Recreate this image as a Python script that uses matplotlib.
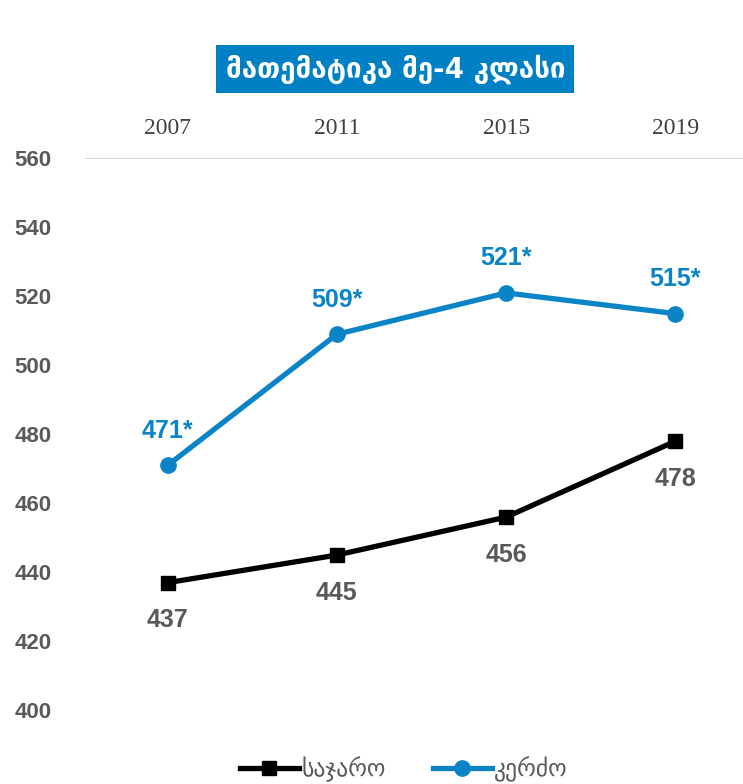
import matplotlib
matplotlib.use("Agg")
import matplotlib.pyplot as plt

years = ["2007", "2011", "2015", "2019"]
georgia = [437, 445, 456, 478]
north = [471, 509, 521, 515]
north_labels = ["471*", "509*", "521*", "515*"]
yticks = [400, 420, 440, 460, 480, 500, 520, 540, 560]

BLUE = "#0a84c6"
GRAY = "#595959"
FONT = ["Liberation Sans", "DejaVu Sans"]

plt.rcParams["font.family"] = FONT

fig = plt.figure(figsize=(7.43, 7.84), dpi=100)
ax = fig.add_axes([0.114, 0.094, 0.886, 0.704])

x = list(range(len(years)))
ax.plot(x, georgia, color="black", lw=3.8, marker="s", ms=10,
        label="საჯარო", zorder=3)
ax.plot(x, north, color=BLUE, lw=3.8, marker="o", ms=11,
        label="კერძო", zorder=3)

for xi, v in zip(x, georgia):
    ax.annotate(str(v), (xi, v), xytext=(0, -27), textcoords="offset points",
                ha="center", va="center", fontsize=18, fontweight="bold", color=GRAY)
for xi, v, lab in zip(x, north, north_labels):
    ax.annotate(lab, (xi, v), xytext=(0, 25), textcoords="offset points",
                ha="center", va="center", fontsize=18, fontweight="bold", color=BLUE)

ax.set_xlim(-0.49, 3.40)
ax.set_ylim(400, 560)
ax.set_yticks(yticks)
ax.set_yticklabels([str(t) for t in yticks], fontsize=16, fontweight="bold", color=GRAY)
ax.tick_params(axis="y", length=0, pad=24)
ax.set_xticks(x)
ax.set_xticklabels(years, fontsize=17, family="Liberation Serif", color="#404040")
ax.xaxis.tick_top()
ax.tick_params(axis="x", length=0, pad=14)
ax.axhline(560, color="#d9d9d9", lw=1.5, zorder=1)
for s in ax.spines.values():
    s.set_visible(False)

fig.text(0.532, 0.912, "მათემატიკა მე-4 კლასი", ha="center", va="center",
         fontsize=20, fontweight="bold", color="white", family=["DejaVu Sans"],
         bbox=dict(boxstyle="square,pad=0.33", fc="#0080c4", ec="none"))

ax.legend(loc="upper center", bbox_to_anchor=(0.485, -0.045), ncol=2, frameon=False,
          fontsize=17, labelcolor=GRAY, handlelength=2.5, columnspacing=2.0,
          handletextpad=0.1)

fig.savefig("out.png", dpi=100)
